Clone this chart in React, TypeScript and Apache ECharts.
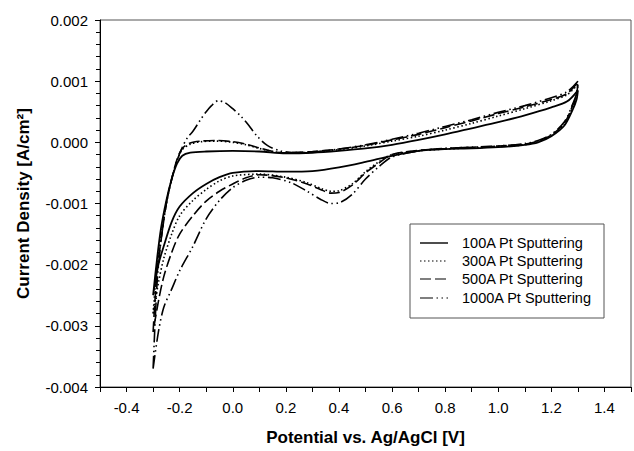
import React, { useEffect, useRef } from "react";
import * as echarts from "echarts";

// Potential [V], current density [A/cm2]
const names = [
  "100A Pt Sputtering",
  "300A Pt Sputtering",
  "500A Pt Sputtering",
  "1000A Pt Sputtering",
];

const cv100: [number, number][] = [
  [-0.3, -0.0025], [-0.285, -0.0019], [-0.27, -0.0014], [-0.25, -0.00095], [-0.23, -0.0006],
  [-0.21, -0.00035], [-0.19, -0.00022], [-0.16, -0.00017], [-0.1, -0.00015], [0.0, -0.00014],
  [0.1, -0.00015], [0.2, -0.00018], [0.3, -0.00017], [0.4, -0.00014], [0.5, -0.0001],
  [0.6, -0.00004], [0.7, 0.00004], [0.8, 0.00013], [0.9, 0.00023], [1.0, 0.00033],
  [1.1, 0.00044], [1.2, 0.00057], [1.26, 0.00067], [1.3, 0.00085],
  [1.295, 0.0007], [1.28, 0.00053], [1.25, 0.00028], [1.2, 0.0001], [1.15, 0.0],
  [1.1, -0.00004], [1.0, -0.00008], [0.9, -0.0001], [0.8, -0.00011], [0.7, -0.00014],
  [0.6, -0.00022], [0.5, -0.00032], [0.4, -0.00041], [0.3, -0.00047], [0.2, -0.00048],
  [0.1, -0.00047], [0.0, -0.0005], [-0.05, -0.00057], [-0.1, -0.00068], [-0.15, -0.00083],
  [-0.2, -0.00105], [-0.23, -0.0013], [-0.26, -0.0017], [-0.28, -0.002], [-0.3, -0.0025],
];

const cv300: [number, number][] = [
  [-0.3, -0.0028], [-0.285, -0.002], [-0.27, -0.0015], [-0.25, -0.001], [-0.23, -0.0006],
  [-0.21, -0.0003], [-0.19, -0.00012], [-0.16, -0.00003], [-0.12, 0.00001], [-0.06, 0.00002],
  [0.0, 0.0], [0.05, -0.00004], [0.1, -0.0001], [0.15, -0.00015], [0.2, -0.00017],
  [0.3, -0.00016], [0.4, -0.00012], [0.5, -0.00006], [0.6, 0.00002], [0.7, 0.0001],
  [0.8, 0.0002], [0.9, 0.00031], [1.0, 0.00043], [1.1, 0.00055], [1.2, 0.00068],
  [1.26, 0.00078], [1.3, 0.00095],
  [1.295, 0.00075], [1.28, 0.00057], [1.25, 0.0003], [1.2, 0.00011], [1.15, 0.00001],
  [1.1, -0.00004], [1.0, -0.00007], [0.9, -0.00009], [0.8, -0.00011], [0.7, -0.00014],
  [0.6, -0.0002], [0.55, -0.00032], [0.5, -0.00048], [0.45, -0.00068], [0.4, -0.00079],
  [0.37, -0.0008], [0.33, -0.00075], [0.28, -0.00066], [0.2, -0.00057], [0.1, -0.00052],
  [0.0, -0.00055], [-0.05, -0.00063], [-0.1, -0.00077], [-0.15, -0.00095], [-0.2, -0.0012],
  [-0.23, -0.0015], [-0.26, -0.0019], [-0.28, -0.0023], [-0.3, -0.0028],
];

const cv500: [number, number][] = [
  [-0.3, -0.0031], [-0.285, -0.0021], [-0.27, -0.0016], [-0.25, -0.001], [-0.23, -0.0006],
  [-0.21, -0.00028], [-0.19, -0.0001], [-0.16, -0.00001], [-0.12, 0.00002], [-0.06, 0.00003],
  [0.0, 0.00001], [0.05, -0.00003], [0.1, -0.00009], [0.15, -0.00015], [0.2, -0.00017],
  [0.3, -0.00015], [0.4, -0.00011], [0.5, -0.00005], [0.6, 0.00004], [0.7, 0.00013],
  [0.8, 0.00024], [0.9, 0.00035], [1.0, 0.00047], [1.1, 0.00058], [1.2, 0.0007],
  [1.26, 0.0008], [1.3, 0.00098],
  [1.295, 0.00078], [1.28, 0.0006], [1.25, 0.00032], [1.2, 0.00012], [1.15, 0.00002],
  [1.1, -0.00003], [1.0, -0.00006], [0.9, -0.00008], [0.8, -0.0001], [0.7, -0.00013],
  [0.6, -0.0002], [0.55, -0.00034], [0.5, -0.0005], [0.45, -0.0007], [0.4, -0.00082],
  [0.37, -0.00083], [0.33, -0.00077], [0.28, -0.00068], [0.2, -0.00058], [0.1, -0.00053],
  [0.05, -0.00058], [0.0, -0.00068], [-0.05, -0.0008], [-0.1, -0.00096], [-0.15, -0.0012],
  [-0.2, -0.0015], [-0.23, -0.0018], [-0.26, -0.0022], [-0.28, -0.0026], [-0.3, -0.0031],
];

const cv1000: [number, number][] = [
  [-0.3, -0.0037], [-0.285, -0.0023], [-0.27, -0.0016], [-0.25, -0.001], [-0.23, -0.0006],
  [-0.21, -0.0003], [-0.19, -0.00008], [-0.17, 0.00008], [-0.15, 0.00018], [-0.12, 0.00038],
  [-0.1, 0.0005], [-0.08, 0.0006], [-0.055, 0.00068], [-0.03, 0.00065], [0.0, 0.00055],
  [0.03, 0.00043], [0.06, 0.00028], [0.09, 0.00011], [0.13, -0.00005], [0.18, -0.00014],
  [0.25, -0.00017], [0.3, -0.00016], [0.4, -0.00011], [0.5, -0.00004], [0.6, 0.00005],
  [0.7, 0.00015], [0.8, 0.00026], [0.9, 0.00037], [1.0, 0.00049], [1.1, 0.0006],
  [1.2, 0.00073], [1.26, 0.00083], [1.3, 0.001],
  [1.295, 0.0008], [1.28, 0.00062], [1.25, 0.00034], [1.2, 0.00013], [1.15, 0.00003],
  [1.1, -0.00002], [1.0, -0.00006], [0.9, -0.00008], [0.8, -0.0001], [0.7, -0.00014],
  [0.6, -0.00024], [0.55, -0.0004], [0.5, -0.0006], [0.45, -0.00085], [0.4, -0.00099],
  [0.37, -0.001], [0.33, -0.00093], [0.28, -0.0008], [0.22, -0.00066], [0.15, -0.00058],
  [0.1, -0.00057], [0.05, -0.00062], [0.0, -0.00074], [-0.05, -0.00095], [-0.1, -0.00125],
  [-0.15, -0.0017], [-0.2, -0.0021], [-0.23, -0.0024], [-0.26, -0.0027], [-0.28, -0.0031],
  [-0.3, -0.0037],
];

const seriesData = [cv100, cv300, cv500, cv1000];
const dashTypes: any[] = ["solid", [1.5, 2.5], [11, 4], [13, 3.5, 1.5, 3.5, 1.5, 3.5]];
const widths = [1.8, 1.6, 1.6, 1.6];

const FONT = "Liberation Sans, Arial, sans-serif";

export default function App() {
  const ref = useRef<HTMLDivElement>(null);
  useEffect(() => {
    if (!ref.current) return;
    const chart = echarts.init(ref.current, undefined, { renderer: "svg" });

    const legendX = 410;
    const legendY = 224;
    const rowY = [243, 261, 279, 298];
    const legendGraphics: any[] = [
      {
        type: "rect",
        shape: { x: legendX, y: legendY, width: 194, height: 94 },
        style: { fill: "#fff", stroke: "#555", lineWidth: 1 },
        z: 100,
      },
    ];
    names.forEach((n, i) => {
      legendGraphics.push({
        type: "line",
        shape: { x1: 420, y1: rowY[i], x2: 448, y2: rowY[i] },
        style: {
          stroke: "#000",
          lineWidth: widths[i] - 0.4,
          lineDash: dashTypes[i] === "solid" ? null : dashTypes[i],
        },
        z: 101,
      });
      legendGraphics.push({
        type: "text",
        x: 462,
        y: rowY[i],
        style: {
          text: n,
          fill: "#000",
          font: `14.5px ${FONT}`,
          verticalAlign: "middle",
          align: "left",
        },
        z: 101,
      });
    });

    chart.setOption({
      animation: false,
      backgroundColor: "#ffffff",
      textStyle: { fontFamily: FONT, color: "#000" },
      grid: {
        left: 100,
        top: 20,
        width: 531,
        height: 370,
        show: true,
        borderColor: "#555",
        borderWidth: 1,
        backgroundColor: "transparent",
      },
      graphic: legendGraphics,
      xAxis: {
        type: "value",
        min: -0.5,
        max: 1.5,
        interval: 0.1,
        name: "Potential vs. Ag/AgCl [V]",
        nameLocation: "middle",
        nameGap: 42,
        nameTextStyle: { fontSize: 17, fontWeight: "bold", color: "#000", fontFamily: FONT },
        axisLine: { onZero: false, lineStyle: { color: "#000", width: 1 } },
        axisTick: { show: true, inside: false, length: 5, lineStyle: { color: "#000" } },
        axisLabel: {
          margin: 13,
          fontSize: 15,
          color: "#000",
          fontFamily: FONT,
          formatter: (v: number) => {
            const k = Math.round(v * 10);
            if (k % 2 !== 0) return "";
            return (k / 10).toFixed(1);
          },
        },
        splitLine: { show: false },
      },
      yAxis: {
        type: "value",
        min: -0.004,
        max: 0.002,
        interval: 0.001,
        name: "Current Density [A/cm²]",
        nameLocation: "middle",
        nameGap: 68,
        nameTextStyle: { fontSize: 17, fontWeight: "bold", color: "#000", fontFamily: FONT },
        axisLine: { onZero: false, lineStyle: { color: "#000", width: 1 } },
        axisTick: { show: true, inside: false, length: 5, lineStyle: { color: "#000" } },
        minorTick: { show: true, splitNumber: 5, length: 4, lineStyle: { color: "#000" } },
        axisLabel: {
          margin: 12,
          fontSize: 15,
          color: "#000",
          fontFamily: FONT,
          formatter: (v: number) => (Math.abs(v) < 1e-12 ? "0.000" : v.toFixed(3)),
        },
        splitLine: { show: false },
      },
      series: seriesData.map((d, i) => ({
        name: names[i],
        type: "line",
        data: d,
        symbol: "none",
        smooth: 0.3,
        clip: true,
        lineStyle: { color: "#000", width: widths[i], type: dashTypes[i] },
        itemStyle: { color: "#000" },
      })),
    });
    return () => chart.dispose();
  }, []);
  return (
    <div
      ref={ref}
      style={{ position: "fixed", left: 0, top: 0, width: 634, height: 451, background: "#fff" }}
    />
  );
}
